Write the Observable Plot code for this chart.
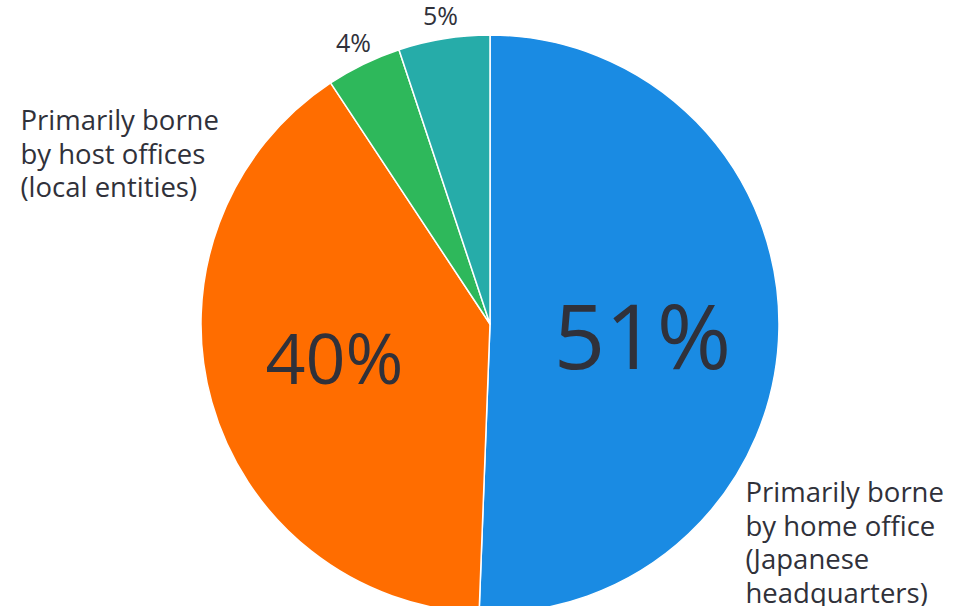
<!DOCTYPE html>
<html><head><meta charset="utf-8">
<script src="https://cdn.jsdelivr.net/npm/d3@7"></script>
<script src="https://cdn.jsdelivr.net/npm/@observablehq/plot@0.6"></script>
<style>body{margin:0;background:#fff;}</style>
</head><body><div id="chart"></div>
<script>
// ---- data ----
const categories = ["Primarily borne by home office (Japanese headquarters)", "Primarily borne by host offices (local entities)", "Other", "Unknown"];
const values = [50.6, 40.1, 4.2, 5.1];
const colors = ["#1a8be3", "#ff6d00", "#2eb85b", "#26aca9"];
const sliceLabels = ["Primarily borne\nby home office\n(Japanese\nheadquarters)", "Primarily borne\nby host offices\n(local entities)", "", ""];

// ---- layout ----
const W = 964, H = 606;
const cx = 490, cy = 324, R = 289;
const font = "'Open Sans', 'Noto Sans', sans-serif";
const ink = "#30313a";

const arcs = d3.pie().sort(null).value(d => d)(values);
const rows = arcs.map((a, i) => {
  const mid = (a.startAngle + a.endAngle) / 2;
  const k = values[i] >= 10 ? 0.55 : 1.085;
  return {category: categories[i], value: values[i], pct: Math.round(values[i]) + "%",
          inside: values[i] >= 10, px: k * Math.sin(mid), py: k * Math.cos(mid)};
});

function pie(index, {x, y}) {
  const g = d3.create("svg:g").attr("transform", `translate(${x(0)},${y(0)})`);
  const r = x(1) - x(0);
  const arc = d3.arc().innerRadius(0).outerRadius(r);
  g.selectAll("path").data(arcs).join("path")
    .attr("d", arc)
    .attr("fill", (d, i) => colors[i])
    .attr("stroke", "#fff")
    .attr("stroke-width", 1.5)
    .attr("stroke-linejoin", "round");
  return g.node();
}

const labelRows = [
  {text: sliceLabels[1], x: (20 - cx) / R, y: (cy - 106) / R},
  {text: sliceLabels[0], x: (745 - cx) / R, y: (cy - 478) / R}
];

const chart = Plot.plot({
  width: W, height: H,
  margin: 0,
  style: {fontFamily: font, background: "#fff"},
  x: {axis: null, domain: [-cx / R, (W - cx) / R]},
  y: {axis: null, domain: [-(H - cy) / R, cy / R]},
  marks: [
    pie,
    Plot.text(rows.filter(d => d.inside && d.value > 45), {x: "px", y: "py", text: "pct", fontSize: 90, dx: -7, dy: 13, fill: ink}),
    Plot.text(rows.filter(d => d.inside && d.value <= 45), {x: "px", y: "py", text: "pct", fontSize: 70, dx: -3, dy: -6, fill: ink}),
    Plot.text(rows.filter(d => !d.inside), {x: "px", y: "py", text: "pct", fontSize: 25, dy: 2, fill: ink}),
    Plot.text(labelRows, {x: "x", y: "y", text: "text", fontSize: 27.5, lineHeight: 1.22,
      textAnchor: "start", lineAnchor: "top", fill: ink})
  ]
});
document.getElementById("chart").append(chart);
</script>
</body></html>
